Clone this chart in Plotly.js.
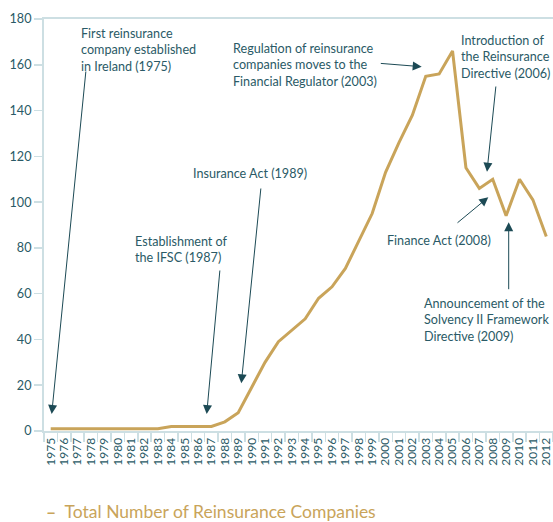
<!DOCTYPE html>
<html>
<head>
<meta charset="utf-8">
<script src="https://cdn.plot.ly/plotly-3.0.1.min.js"></script>
<style>html,body{margin:0;padding:0;background:#fff;}#chart{width:553px;height:522px;}</style>
</head>
<body>
<div id="chart"></div>
<script>
const years = ['1975','1976','1977','1978','1979','1980','1981','1982','1983','1984','1985','1986','1987','1988','1989','1990','1991','1992','1993','1994','1995','1996','1997','1998','1999','2000','2001','2002','2003','2004','2005','2006','2007','2008','2009','2010','2011','2012'];
const companies = [1,1,1,1,1,1,1,1,1,2,2,2,2,4,8,19,30,39,44,49,58,63,71,83,95,113,126,138,155,156,166,115,106,110,94,110,101,85];
const seriesName = 'Total Number of Reinsurance Companies';
const yTicks = [0,20,40,60,80,100,120,140,160,180];

const teal = '#2a5a66';
const arrowCol = '#1c4a55';
const gold = '#c9a45a';
const axisCol = '#cddfe3';
const FONT = 'Lato, "Open Sans", sans-serif';

// layout geometry
const L = 44, R = 0, T = 19, B = 91, W = 553, H = 522;
const pw = W - L - R, ph = H - T - B;
const xr = [-0.5, years.length - 0.5], yr = [0, 180];
const px2x = p => xr[0] + (p - L) / pw * (xr[1] - xr[0]);
const py2y = p => yr[1] - (p - T) / ph * (yr[1] - yr[0]);

const notes = [
  {text:'First reinsurance<br>company established<br>in Ireland (1975)', l:79, t:24},
  {text:'Establishment of<br>the IFSC (1987)', l:133, t:232},
  {text:'Insurance Act (1989)', l:191, t:164},
  {text:'Regulation of reinsurance<br>companies moves to the<br>Financial Regulator (2003)', l:231, t:39},
  {text:'Introduction of<br>the Reinsurance<br>Directive (2006)', l:459, t:31},
  {text:'Finance Act (2008)', l:385, t:231},
  {text:'Announcement of the<br>Solvency II Framework<br>Directive (2009)', l:422, t:294}
];
const arrows = [
  {hx:51.7, hy:414, tx:86, ty:70},
  {hx:206.7, hy:414, tx:220, ty:269},
  {hx:241.3, hy:383.3, tx:261, ty:187},
  {hx:421.7, hy:66.7, tx:379.3, ty:63.3},
  {hx:487, hy:171.7, tx:496, ty:85},
  {hx:488.3, hy:197.3, tx:456, ty:224},
  {hx:508.7, hy:222.3, tx:508.7, ty:290.7}
];

const annotations = [];
notes.forEach(n => annotations.push({
  text:n.text, x:px2x(n.l), y:py2y(n.t), xref:'x', yref:'y', xanchor:'left', yanchor:'top',
  align:'left', showarrow:false, font:{family:FONT, size:12.6, color:teal}
}));
arrows.forEach(a => annotations.push({
  text:'', x:px2x(a.hx), y:py2y(a.hy), xref:'x', yref:'y',
  ax:a.tx - a.hx, ay:a.ty - a.hy, showarrow:true, arrowhead:2, arrowsize:1.8, arrowwidth:1,
  arrowcolor:arrowCol, standoff:0
}));
annotations.push({
  text:'<b>–</b>  ' + seriesName, xref:'paper', yref:'paper', x:0, y:-0.195, xanchor:'left', yanchor:'middle',
  showarrow:false, font:{family:FONT, size:17.5, color:gold}
});

const trace = {
  x: years, y: companies, type:'scatter', mode:'lines', name: seriesName,
  line:{color:gold, width:3}, showlegend:false
};

const layout = {
  width:W, height:H, margin:{l:L, r:R, t:T, b:B, pad:0},
  paper_bgcolor:'#fff', plot_bgcolor:'#fff', showlegend:false,
  font:{family:FONT, color:teal},
  xaxis:{type:'category', range:xr, tickmode:'array', tickvals:years, ticktext:years,
    showgrid:false, zeroline:false, showline:true, linecolor:axisCol, linewidth:2,
    mirror:true, ticks:'outside', tickson:'boundaries', ticklen:9, tickcolor:axisCol, tickwidth:1.5,
    tickangle:-90, tickfont:{family:FONT, size:12, color:teal}, fixedrange:true},
  yaxis:{range:yr, tickvals:yTicks, showgrid:false, zeroline:false, showline:true, linecolor:axisCol, linewidth:2,
    ticks:'outside', ticklen:8, tickcolor:axisCol, tickwidth:1.5, tickfont:{family:FONT, size:12.6, color:teal}, fixedrange:true},
  annotations: annotations
};

Plotly.newPlot('chart', [trace], layout, {displayModeBar:false, staticPlot:true});
</script>
</body>
</html>
